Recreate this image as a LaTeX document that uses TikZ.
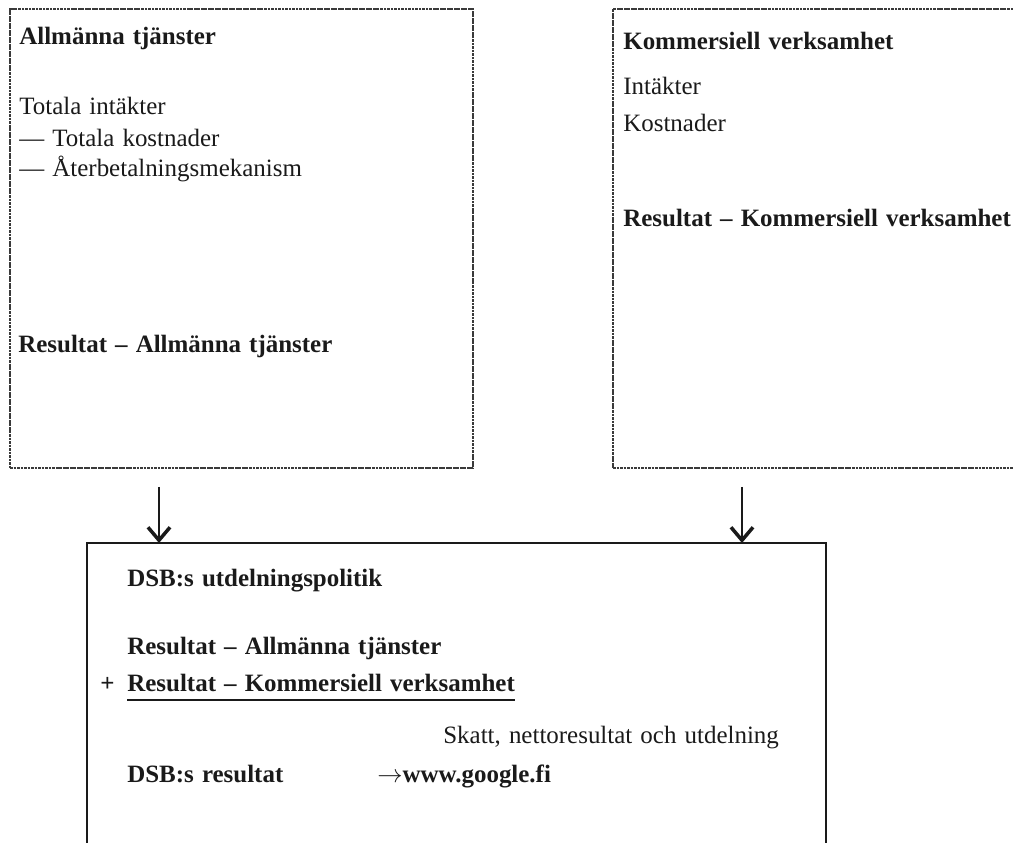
\documentclass[tikz,border=0pt]{standalone}
\usepackage{fontspec}
\setmainfont[WordSpace=1.3]{Liberation Serif}
\usetikzlibrary{arrows.meta,positioning}
\definecolor{frame}{HTML}{3A3A3A}
\definecolor{ink}{HTML}{1A1A1A}

\begin{document}
\begin{tikzpicture}[
  font=\fontsize{14.2}{17}\selectfont,
  >={Straight Barb[length=2.6mm,width=4.4mm,line width=2pt]},
  panel/.style={draw=frame, line width=0.8pt,
                dash pattern=on 1.6pt off 0.4pt, inner sep=0pt, outer sep=0pt,
                anchor=north west},
  txt/.style={anchor=base west, inner sep=0pt, text=ink},
  hd/.style={txt, font=\fontsize{14.2}{17}\selectfont\bfseries},
  flow/.style={->, line width=1.6pt, ink}]

%% 1 cm = 50 px of the 1013 x 843 reference
\useasboundingbox (0,0) rectangle (20.26,16.86);

%% ---- the three boxes ----
%% the right box and the lower box run past the page edge
\node[panel, minimum width=9.26cm, minimum height=9.18cm] (pubbox) at (0.20,16.68) {};
\node[panel, minimum width=9.50cm, minimum height=9.18cm] (combox) at (12.26,16.68) {};
\node[panel, draw=ink, line width=1.1pt, solid, minimum width=14.78cm,
      minimum height=7.50cm] (divbox) at (1.74,6.00) {};

%% ---- left box: public services ----
\node[hd]  (pubhead)  at (0.38,15.96) {Allmänna tjänster};
\node[txt] (pubrev)   at (0.38,14.56) {Totala intäkter};
\node[txt] (pubcost)  at (0.38,13.92) {—\ Totala kostnader};
\node[txt] (pubrepay) at (0.38,13.32) {—\ Återbetalningsmekanism};
\node[hd]  (pubres)   at (0.36,9.80)  {Resultat – Allmänna tjänster};

%% ---- right box: commercial business ----
\node[hd]  (comhead) at (12.46,15.86) {Kommersiell verksamhet};
\node[txt] (comrev)  at (12.46,14.96) {Intäkter};
\node[txt] (comcost) at (12.46,14.22) {Kostnader};
\node[hd]  (comres)  at (12.46,12.32) {Resultat – Kommersiell verksamhet};

%% ---- arrows down into the lower box ----
\coordinate (pubout) at (3.18,7.12);
\coordinate (comout) at (14.84,7.12);
\draw[flow] (pubout) -- (pubout |- divbox.north);
\draw[flow] (comout) -- (comout |- divbox.north);

%% ---- lower box: dividend policy ----
\node[hd]  (divhead) at (2.54,5.12) {DSB:s utdelningspolitik};
\node[hd]  (divpub)  at (2.54,3.76) {Resultat – Allmänna tjänster};
\node[hd]  (divcom)  at (2.54,3.02) {Resultat – Kommersiell verksamhet};
\node[hd, anchor=base east] (divplus) at (2.30,3.02) {+};
\draw[ink, line width=0.8pt] ([yshift=-0.16cm]divcom.base west)
  -- ([yshift=-0.16cm]divcom.base east);
\node[txt] (divtax)  at (8.86,1.98) {Skatt, nettoresultat och utdelning};
\node[hd]  (divres)  at (2.54,1.20) {DSB:s resultat};
\node[txt] (divlink) at (7.54,1.20) {$\rightarrow$\textbf{www.google.fi}};

\end{tikzpicture}
\end{document}
